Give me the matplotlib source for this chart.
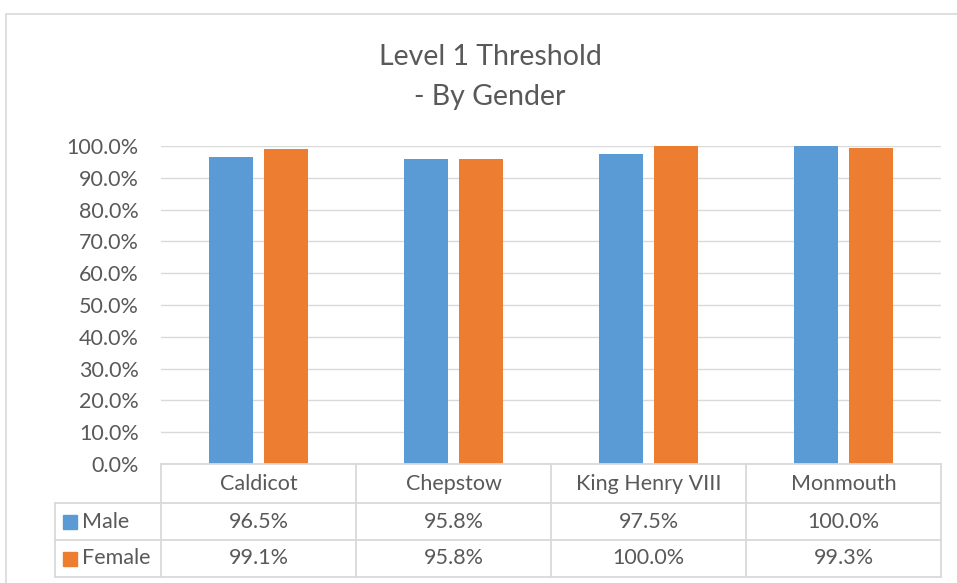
import matplotlib
matplotlib.use("Agg")
import matplotlib.pyplot as plt
from matplotlib.patches import Rectangle
from matplotlib.lines import Line2D
import matplotlib.transforms as mtransforms

categories = ["Caldicot", "Chepstow", "King Henry VIII", "Monmouth"]
series_names = ["Male", "Female"]
male = [0.965, 0.958, 0.975, 1.000]
female = [0.991, 0.958, 1.000, 0.993]
male_labels = ["96.5%", "95.8%", "97.5%", "100.0%"]
female_labels = ["99.1%", "95.8%", "100.0%", "99.3%"]
yticks = [0.0, 0.1, 0.2, 0.3, 0.4, 0.5, 0.6, 0.7, 0.8, 0.9, 1.0]
title = "Level 1 Threshold\n- By Gender"

W, H = 957, 583
FONT = ["Lato", "DejaVu Sans"]
TXT = "#595959"
GRID = "#D9D9D9"
C_MALE = "#5B9BD5"
C_FEMALE = "#ED7D31"
FS = 15.5

fig = plt.figure(figsize=(W / 100, H / 100), dpi=100)
plt.rcParams["font.family"] = FONT

def fx(px):
    return px / W

def fy(py):
    return 1 - py / H

# chart frame
fig.patches.append(Rectangle((fx(6), fy(H + 10)), fx(W + 10) - fx(6), fy(14) - fy(H + 10),
                             transform=fig.transFigure, fill=False, edgecolor="#D9D9D9",
                             linewidth=1.2))

ax_l, ax_r, ax_t, ax_b = 161, 941, 146, 464
ax = fig.add_axes([fx(ax_l), fy(ax_b), fx(ax_r) - fx(ax_l), fy(ax_t) - fy(ax_b)])
ax.set_xlim(-0.5, len(categories) - 0.5)
ax.set_ylim(0, 1.0)

x = list(range(len(categories)))
bw = 0.226
off = 0.142
ax.bar([i - off for i in x], male, width=bw, color=C_MALE, zorder=3)
ax.bar([i + off for i in x], female, width=bw, color=C_FEMALE, zorder=3)

ax.set_yticks(yticks)
ax.set_yticklabels([f"{v*100:.1f}%" for v in yticks], fontsize=FS, color=TXT, family=FONT)
ax.tick_params(axis="y", length=0, pad=16)
ax.set_xticks([])
ax.grid(axis="y", color=GRID, linewidth=1, zorder=0)
for s in ax.spines.values():
    s.set_visible(False)

# data table
trans = fig.transFigure
col_edges = [161, 356, 551, 746, 941]
row_edges = [464, 503, 540, 577]
leg_left = 55

def hline(y, x0, x1):
    fig.add_artist(Line2D([fx(x0), fx(x1)], [fy(y), fy(y)], transform=trans, color=GRID, linewidth=1.3))

def vline(xp, y0, y1):
    fig.add_artist(Line2D([fx(xp), fx(xp)], [fy(y0), fy(y1)], transform=trans, color=GRID, linewidth=1.3))

hline(row_edges[0], col_edges[0], col_edges[-1])
for r in row_edges[1:]:
    hline(r, leg_left, col_edges[-1])
for c in col_edges:
    vline(c, row_edges[0], row_edges[-1])
vline(leg_left, row_edges[1], row_edges[-1])

blend = mtransforms.blended_transform_factory(ax.transData, fig.transFigure)
for i, cat in enumerate(categories):
    fig.text(i, fy((row_edges[0] + row_edges[1]) / 2 + 1), cat, transform=blend,
             ha="center", va="center", fontsize=FS, color=TXT, family=FONT)
    fig.text(i, fy((row_edges[1] + row_edges[2]) / 2), male_labels[i], transform=blend,
             ha="center", va="center", fontsize=FS, color=TXT, family=FONT)
    fig.text(i, fy((row_edges[2] + row_edges[3]) / 2), female_labels[i], transform=blend,
             ha="center", va="center", fontsize=FS, color=TXT, family=FONT)

for k, (name, col) in enumerate(zip(series_names, [C_MALE, C_FEMALE])):
    yc = (row_edges[k + 1] + row_edges[k + 2]) / 2
    fig.patches.append(Rectangle((fx(63), fy(yc + 7)), fx(14), fy(0) - fy(14),
                                 transform=trans, color=col))
    fig.text(fx(82), fy(yc), name, ha="left", va="center", fontsize=FS, color=TXT, family=FONT)

fig.text(fx(490), fy(77), title, ha="center", va="center", fontsize=20.5, color=TXT,
         family=FONT, linespacing=1.65)

fig.savefig("out.png", dpi=100)
